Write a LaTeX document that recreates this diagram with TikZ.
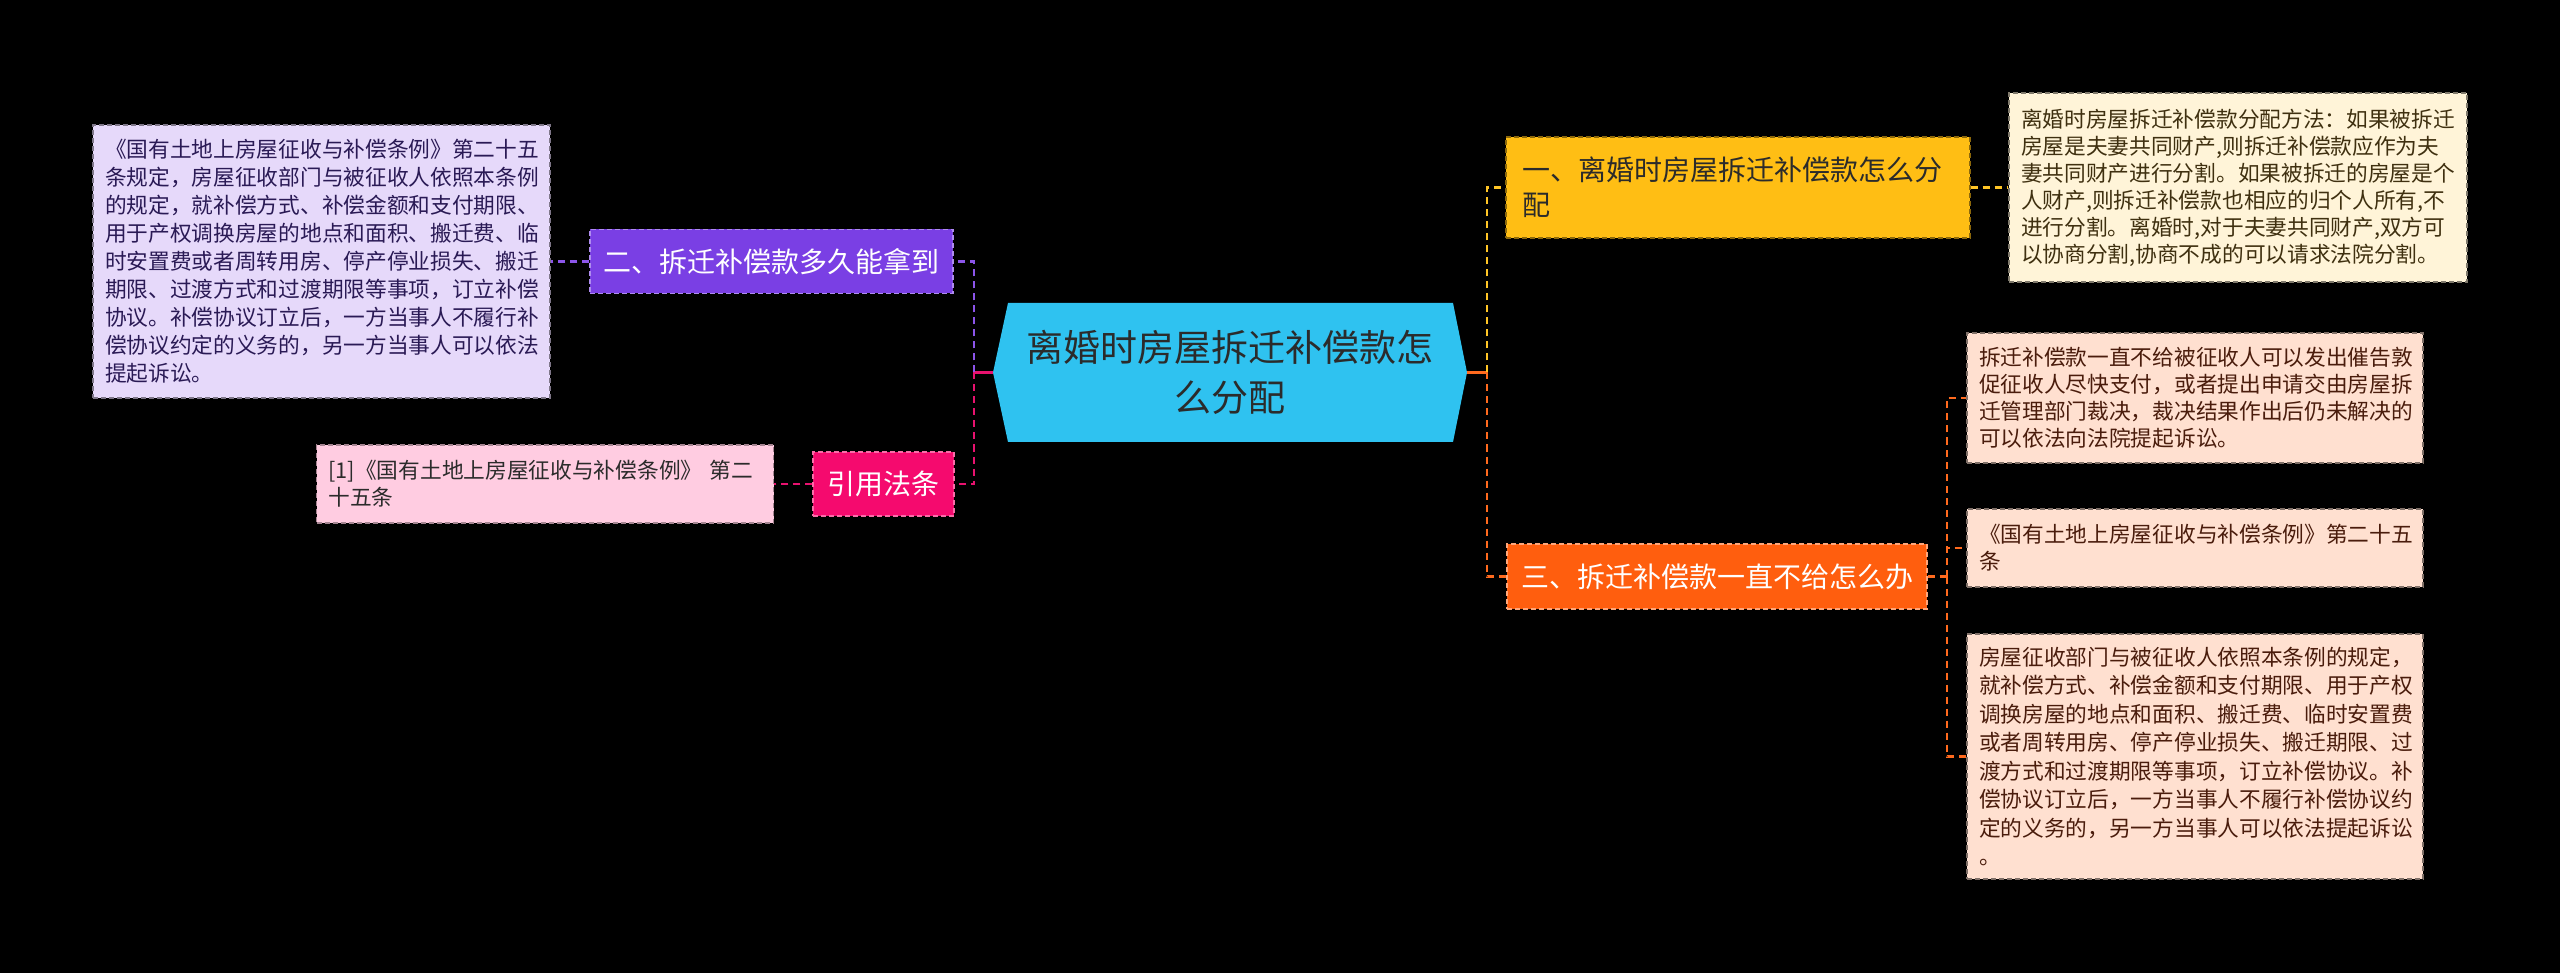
\documentclass[tikz,border=0pt]{standalone}
\usepackage{fontspec}
\setmainfont{Noto Sans CJK SC}
\definecolor{cblue}{HTML}{2FC2F0}
\definecolor{cyellow}{HTML}{FFBE14}
\definecolor{ccream}{HTML}{FFF4D8}
\definecolor{corange}{HTML}{FF5E0E}
\definecolor{cpeach}{HTML}{FFE0D0}
\definecolor{cpurple}{HTML}{7A3FE4}
\definecolor{clav}{HTML}{E6D9FA}
\definecolor{cpink}{HTML}{F50A6E}
\definecolor{clpink}{HTML}{FFCCE1}
\definecolor{lyellow}{HTML}{FFC526}
\definecolor{lorange}{HTML}{FF6A1E}
\definecolor{lpurple}{HTML}{8C55EA}
\definecolor{lpink}{HTML}{E8126F}
\definecolor{tdark}{HTML}{2B2B2B}
\definecolor{tbrown}{HTML}{3F3010}
\definecolor{tred}{HTML}{4A1C0C}
\definecolor{tnavy}{HTML}{2A1A55}
\begin{document}
\begin{tikzpicture}[x=1pt,y=-1pt,
  conn/.style={line width=2.5pt, dash pattern=on 7pt off 5pt},
  stub/.style={line width=2.5pt},
  mainbox/.style={font=\fontsize{28pt}{35pt}\selectfont, inner sep=0pt, dash pattern=on 5pt off 3pt, line width=1.3pt},
  leafbox/.style={font=\fontsize{21.7pt}{27pt}\selectfont, inner xsep=12pt, inner ysep=0pt, align=left, dash pattern=on 5pt off 3pt, line width=1.3pt},
]
\fill[black] (0,0) rectangle (2560,973);
\useasboundingbox (0,0) rectangle (2560,973);

% central topic
\fill[cblue] (993,372.5) -- (1008,303) -- (1453,303) -- (1467,372.5) -- (1453,442) -- (1008,442) -- cycle;
\node[minimum width=474pt, minimum height=139pt, inner sep=0pt, align=center, text=tdark,
      font=\fontsize{37pt}{50pt}\selectfont] (c) at (1230,372.5) {离婚时房屋拆迁补偿款怎\\么分配};

% right branches
\node[mainbox, fill=cyellow, draw=cyellow!55!black, text=tdark, minimum width=464pt, minimum height=101pt,
      text width=432pt, align=left] (n1) at (1738,187.5) {一、离婚时房屋拆迁补偿款怎么分\\配};
\node[mainbox, fill=corange, draw=corange!55!white, text=white, minimum width=420pt, minimum height=65pt]
      (n3) at (1717,576.5) {三、拆迁补偿款一直不给怎么办};

\node[leafbox, fill=ccream, draw=ccream!50!black, text=tbrown, minimum width=458pt, minimum height=189pt,
      text width=434pt] (b1) at (2238,187.5) {离婚时房屋拆迁补偿款分配方法：如果被拆迁\\房屋是夫妻共同财产,则拆迁补偿款应作为夫\\妻共同财产进行分割。如果被拆迁的房屋是个\\人财产,则拆迁补偿款也相应的归个人所有,不\\进行分割。离婚时,对于夫妻共同财产,双方可\\以协商分割,协商不成的可以请求法院分割。};

\node[leafbox, fill=cpeach, draw=cpeach!50!black, text=tred, minimum width=456pt, minimum height=130pt,
      text width=432pt] (b3a) at (2195,398) {拆迁补偿款一直不给被征收人可以发出催告敦\\促征收人尽快支付，或者提出申请交由房屋拆\\迁管理部门裁决，裁决结果作出后仍未解决的\\可以依法向法院提起诉讼。};
\node[leafbox, fill=cpeach, draw=cpeach!50!black, text=tred, minimum width=456pt, minimum height=78pt,
      text width=432pt] (b3b) at (2195,548) {《国有土地上房屋征收与补偿条例》第二十五\\条};
\node[leafbox, fill=cpeach, draw=cpeach!50!black, text=tred, minimum width=456pt, minimum height=245pt,
      text width=432pt, font=\fontsize{21.7pt}{28.5pt}\selectfont] (b3c) at (2195,756.5) {房屋征收部门与被征收人依照本条例的规定，\\就补偿方式、补偿金额和支付期限、用于产权\\调换房屋的地点和面积、搬迁费、临时安置费\\或者周转用房、停产停业损失、搬迁期限、过\\渡方式和过渡期限等事项，订立补偿协议。补\\偿协议订立后，一方当事人不履行补偿协议约\\定的义务的，另一方当事人可以依法提起诉讼\\。};

% left branches
\node[mainbox, fill=cpurple, draw=cpurple!60!white, text=white, minimum width=363pt, minimum height=64pt]
      (n2) at (771.5,261.5) {二、拆迁补偿款多久能拿到};
\node[mainbox, fill=cpink, draw=cpink!60!white, text=white, minimum width=141pt, minimum height=64pt]
      (n4) at (883.5,484) {引用法条};

\node[leafbox, fill=clav, draw=clav!55!black, text=tnavy, minimum width=457pt, minimum height=273pt,
      text width=433pt, font=\fontsize{21.7pt}{28pt}\selectfont] (b2) at (321.5,261.5) {《国有土地上房屋征收与补偿条例》第二十五\\条规定，房屋征收部门与被征收人依照本条例\\的规定，就补偿方式、补偿金额和支付期限、\\用于产权调换房屋的地点和面积、搬迁费、临\\时安置费或者周转用房、停产停业损失、搬迁\\期限、过渡方式和过渡期限等事项，订立补偿\\协议。补偿协议订立后，一方当事人不履行补\\偿协议约定的义务的，另一方当事人可以依法\\提起诉讼。};
\node[leafbox, fill=clpink, draw=clpink!65!black, text=tdark, minimum width=457pt, minimum height=78pt,
      text width=433pt] (b4) at (545,484) {[1]《国有土地上房屋征收与补偿条例》~第二\\十五条};

% connectors
\coordinate (lt) at (974,372.5);
\coordinate (rt) at (1487,372.5);
\coordinate (rt3) at (1947,576.5);
\draw[stub, lpink] (c.west) -- (lt);
\draw[conn, lpurple] (lt) |- (n2.east);
\draw[conn, lpink] (lt) |- (n4.east);
\draw[conn, lpurple] (n2.west) -- (b2.east);
\draw[conn, lpink] (n4.west) -- (b4.east);
\draw[stub, lorange] (c.east) -- (rt);
\draw[conn, lyellow] (rt) |- (n1.west);
\draw[conn, lorange] (rt) |- (n3.west);
\draw[conn, lyellow] (n1.east) -- (b1.west);
\draw[conn, lorange] (n3.east) -- (rt3);
\draw[conn, lorange] (rt3) |- (b3a.west);
\draw[conn, lorange] (rt3) |- (b3b.west);
\draw[conn, lorange] (rt3) |- (b3c.west);
\end{tikzpicture}
\end{document}
